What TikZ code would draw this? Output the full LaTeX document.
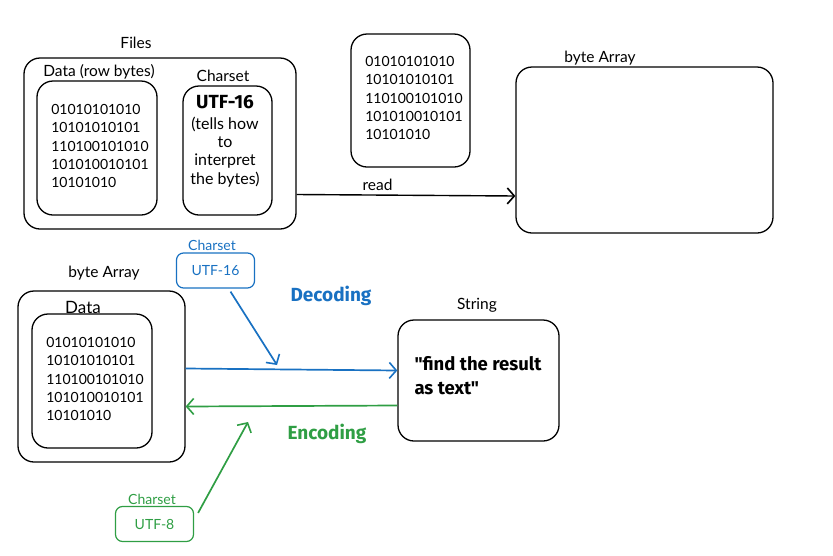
\documentclass[tikz,border=0pt]{standalone}
\usepackage{fontspec}
\setmainfont{Lato}
\newfontfamily\headfont{Fira Sans}
\usetikzlibrary{arrows.meta}
\definecolor{decblue}{HTML}{1971C2}
\definecolor{encgreen}{HTML}{2F9E44}
\tikzset{
  box/.style={draw,rounded corners=16pt,line width=1.3pt,inner sep=0pt},
  smallbox/.style={draw,rounded corners=7pt,line width=1.2pt,inner sep=0pt,minimum width=78pt,minimum height=35pt},
  lbl/.style={font=\fontsize{15.5}{18}\selectfont},
  bits/.style={align=left,font=\fontsize{14}{18.3}\selectfont},
  flow/.style={line width=1.7pt,-{Straight Barb[length=7pt,width=16pt,line width=1.6pt]}}
}
\begin{document}
\begin{tikzpicture}[x=1pt,y=-1pt]
  \useasboundingbox (0,0) rectangle (833,555);
  % top row
  \node[lbl] (fileslbl) at (136,43) {Files};
  \node[box,minimum width=272pt,minimum height=171pt] (files) at (160,143.5) {};
  \node[lbl] (datalbl) at (99,72) {Data (row bytes)};
  \node[box,minimum width=120pt,minimum height=134pt] (data) at (97,148) {};
  \node[bits] (databits) at (100,146) {01010101010\\10101010101\\110100101010\\101010010101\\10101010};
  \node[lbl] (cslbl) at (223,76) {Charset};
  \node[box,minimum width=89pt,minimum height=129pt] (charset) at (227.5,150.5) {};
  \node[font=\headfont\bfseries\fontsize{19}{22}\selectfont,inner sep=1pt] (utf) at (225,102) {UTF-16};
  \node[align=center,font=\fontsize{16}{18.3}\selectfont,inner sep=1pt] (tells) at (225,152) {(tells how\\to\\interpret\\the bytes)};
  \node[box,minimum width=119pt,minimum height=133pt] (bits) at (410.5,100.5) {};
  \node[bits] (bitstxt) at (414,98) {01010101010\\10101010101\\110100101010\\101010010101\\10101010};
  \node[lbl] (arrlbl) at (600,58) {byte Array};
  \node[box,minimum width=257pt,minimum height=166pt] (bytearr) at (644.5,150) {};
  \draw[flow,line width=1.4pt] ([yshift=-51pt]files.east) -- ([yshift=-46pt]bytearr.west)
    node[pos=0.37,above,lbl] {read};
  % bottom row
  \node[lbl,text=decblue,font=\fontsize{14}{16}\selectfont] (cs16lbl) at (212,245) {Charset};
  \node[smallbox,draw=decblue,text=decblue,font=\fontsize{14}{16}\selectfont] (utf16) at (215.5,270.5) {UTF-16};
  \node[font=\headfont\bfseries\fontsize{19}{22}\selectfont,text=decblue] (dec) at (331,296) {Decoding};
  \node[lbl] (arr2lbl) at (104,273) {byte Array};
  \node[box,minimum width=167pt,minimum height=171pt] (outer) at (101.5,376.5) {};
  \node[lbl,font=\fontsize{17}{19}\selectfont] (data2lbl) at (83,307) {Data};
  \node[box,minimum width=120pt,minimum height=134pt] (data2) at (92,381) {};
  \node[bits] (data2bits) at (95,379) {01010101010\\10101010101\\110100101010\\101010010101\\10101010};
  \node[lbl] (strlbl) at (477,305) {String};
  \node[box,minimum width=161pt,minimum height=121pt] (string) at (478.5,380.5) {};
  \node[align=left,font=\headfont\bfseries\fontsize{18.5}{24}\selectfont] (strtxt) at (478,376) {"find the result\\as text"};
  \node[font=\headfont\bfseries\fontsize{19}{22}\selectfont,text=encgreen] (enc) at (327,434) {Encoding};
  \node[lbl,text=encgreen,font=\fontsize{14}{16}\selectfont] (cs8lbl) at (152,499) {Charset};
  \node[smallbox,draw=encgreen,text=encgreen,font=\fontsize{14}{16}\selectfont] (utf8) at (154.5,524) {UTF-8};
  \coordinate (decpt) at (277,365);
  \coordinate (encpt) at (248,422);
  \draw[flow,decblue] ([yshift=8pt]outer.east) -- ([yshift=10pt]string.west);
  \draw[flow,decblue] ([xshift=15pt,yshift=-3pt]utf16.south) -- (decpt);
  \draw[flow,encgreen] ([yshift=-25pt]string.west) -- ([yshift=-30pt]outer.east);
  \draw[flow,encgreen] ([xshift=4pt,yshift=-7pt]utf8.north east) -- (encpt);
\end{tikzpicture}
\end{document}
